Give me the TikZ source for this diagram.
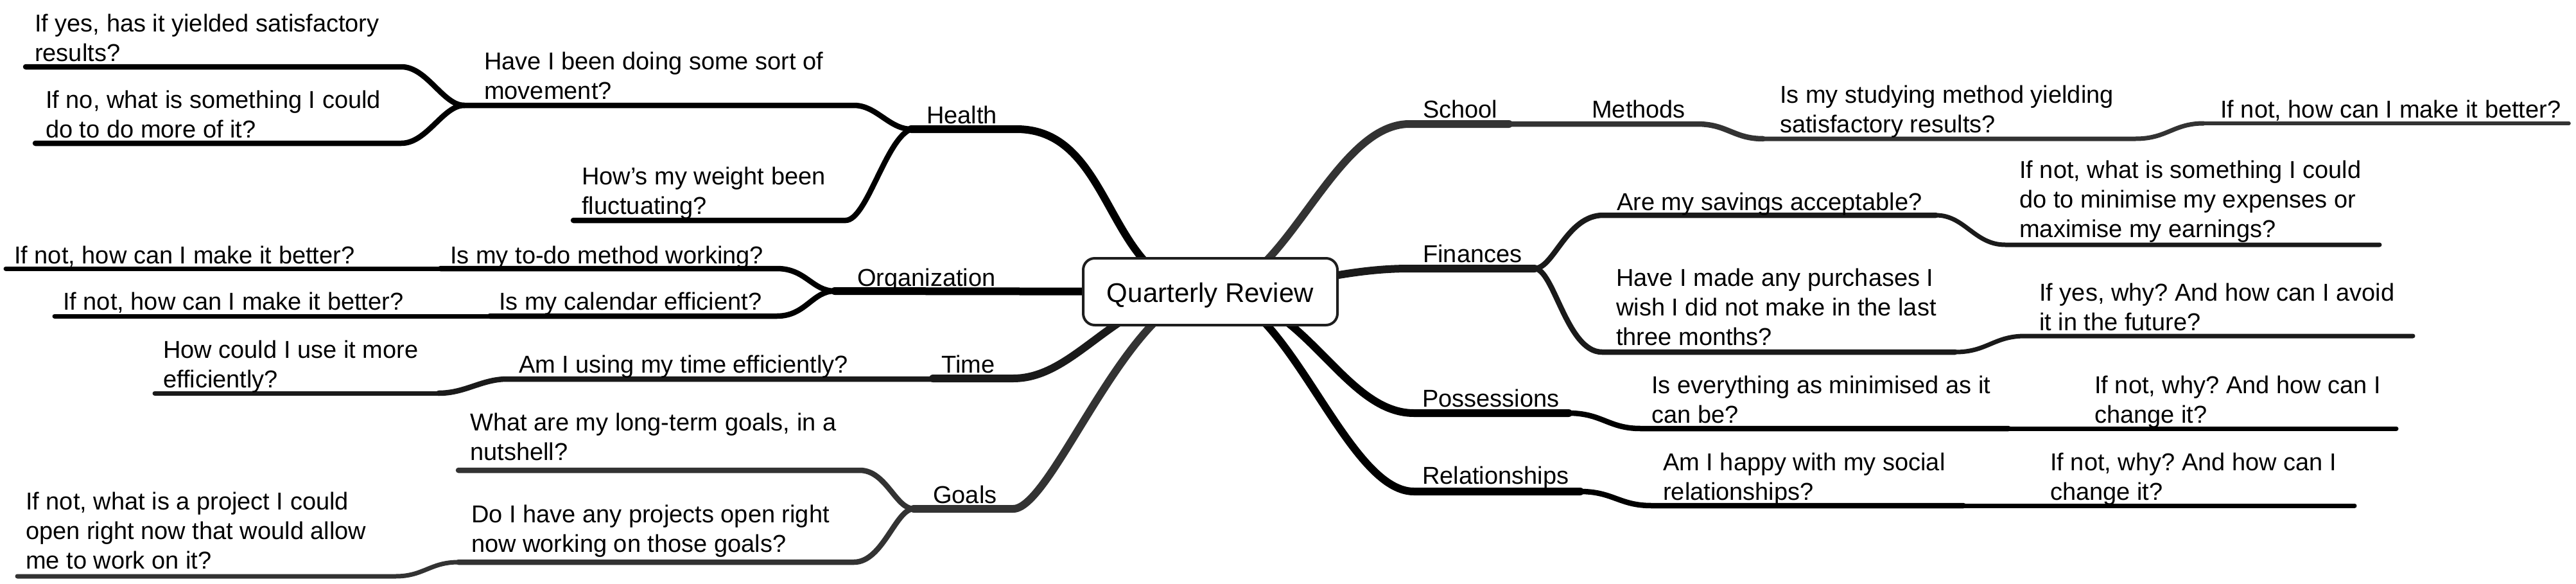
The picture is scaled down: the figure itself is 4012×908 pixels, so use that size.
\documentclass[tikz,border=0pt]{standalone}
\usepackage{fontspec}
\setmainfont{Liberation Sans}
\frenchspacing
\definecolor{gA}{HTML}{1A1A1A}
\definecolor{gB}{HTML}{333333}
\definecolor{boxline}{HTML}{1E1E1E}
\newcommand\twoline[2]{\vtop{\hbox{#1}\hbox{#2}}}
\newcommand\threeline[3]{\vtop{\hbox{#1}\hbox{#2}\hbox{#3}}}
\begin{document}
\begin{tikzpicture}[x=1pt,y=-1pt,
  mainln/.style={line width=12pt, line cap=round},
  subln/.style={line width=8.5pt, line cap=round},
  leafln/.style={line width=7pt, line cap=round},
  tipln/.style={line width=5.5pt, line cap=round},
  centerbox/.style={draw=boxline, line width=4pt, fill=white, rounded corners=18pt,
     minimum width=396pt, minimum height=104pt, inner sep=0pt,
     font=\fontsize{42}{50}\selectfont, text height=36pt, text depth=4pt},
  txt/.style={anchor=base west, inner sep=0pt, font=\fontsize{38}{46}\selectfont\frenchspacing}]
\useasboundingbox (0,0) rectangle (4012,908);
\coordinate (c) at (1885,454);
% ---------- junctions ----------
\coordinate (jH) at (1419,201);
\coordinate (jHM) at (723,164);
\coordinate (jO) at (1300,453);
\coordinate (jG) at (1423,792);
\coordinate (jF) at (2390,418);
% ---------- HEALTH ----------
\draw[mainln,black] (c) .. controls (1720,454) and (1740,201) .. (1583,201) -- (jH);
\draw[subln,black] (jH) .. controls (1385,201) and (1365,164) .. (1330,164) -- (jHM);
\draw[subln,black] (jH) .. controls (1380,215) and (1350,343) .. (1317,343) -- (893,343);
\draw[subln,black] (jHM) .. controls (690,164) and (665,104) .. (625,104) -- (40,104);
\draw[subln,black] (jHM) .. controls (690,164) and (665,223) .. (625,223) -- (55,223);
% ---------- ORGANIZATION ----------
\draw[mainln,black] (c) -- (jO);
\draw[subln,black] (jO) .. controls (1265,453) and (1255,418) .. (1210,418) -- (686,418);
\draw[leafln,black] (686,418) -- (9,418);
\draw[subln,black] (jO) .. controls (1265,453) and (1255,492) .. (1210,492) -- (763,492);
\draw[leafln,black] (763,492) -- (85,492);
% ---------- TIME ----------
\draw[mainln,gA] (c) .. controls (1740,454) and (1680,589) .. (1578,589) -- (1453,589);
\draw[subln,gA] (1453,590) -- (790,590) .. controls (750,590) and (725,612) .. (683,612);
\draw[leafln,gA] (683,612) -- (241,612);
% ---------- GOALS ----------
\draw[mainln,gB] (c) .. controls (1760,454) and (1640,792) .. (1578,792) -- (jG);
\draw[subln,gB] (jG) .. controls (1395,792) and (1380,732) .. (1339,732) -- (714,732);
\draw[subln,gB] (jG) .. controls (1395,792) and (1375,875) .. (1330,875) -- (714,875);
\draw[leafln,gB] (714,875) .. controls (670,875) and (660,897) .. (616,897) -- (27,897);
% ---------- SCHOOL ----------
\draw[mainln,gB] (c) .. controls (2000,454) and (2075,193) .. (2195,193) -- (2350,193);
\draw[subln,gB] (2350,193) -- (2643,193) .. controls (2690,193) and (2700,216) .. (2746,216);
\draw[leafln,gB] (2746,216) -- (3326,216) .. controls (3375,216) and (3385,192) .. (3432,192);
\draw[tipln,gB] (3432,192) -- (4001,192);
% ---------- FINANCES ----------
\draw[mainln,gA] (c) .. controls (2000,454) and (2080,418) .. (2195,418) -- (jF);
\draw[subln,gA] (jF) .. controls (2420,418) and (2440,335) .. (2497,335) -- (3015,335);
\draw[leafln,gA] (3015,335) .. controls (3060,335) and (3075,381) .. (3123,381) -- (3706,381);
\draw[subln,gA] (jF) .. controls (2420,418) and (2440,548) .. (2495,548) -- (3045,548);
\draw[leafln,gA] (3045,548) .. controls (3095,548) and (3105,523) .. (3154,523) -- (3758,523);
% ---------- POSSESSIONS ----------
\draw[mainln,black] (c) .. controls (2030,454) and (2090,643) .. (2202,643) -- (2443,643);
\draw[subln,black] (2443,643) .. controls (2495,643) and (2505,667) .. (2555,667) -- (3128,667);
\draw[leafln,black] (3128,667) -- (3732,667);
% ---------- RELATIONSHIPS ----------
\draw[mainln,black] (c) .. controls (2005,454) and (2095,765) .. (2202,765) -- (2461,765);
\draw[subln,black] (2461,765) .. controls (2512,765) and (2522,787) .. (2572,787) -- (3058,787);
\draw[leafln,black] (3058,787) -- (3667,787);
% ---------- central node ----------
\node[centerbox] (qr) at (c) {Quarterly Review};
% ---------- texts left ----------
\node[txt] (t1) at (54,49) {\twoline{If yes, has it yielded satisfactory}{results?}};
\node[txt] (t2) at (71,168) {\twoline{If no, what is something I could}{do to do more of it?}};
\node[txt] (t3) at (754,108) {\twoline{Have I been doing some sort of}{movement?}};
\node[txt] (t4) at (906,287) {\twoline{How’s my weight been}{fluctuating?}};
\node[txt] (health) at (1443,192) {Health};
\node[txt] (t5) at (22,410) {If not, how can I make it better?};
\node[txt] (t6) at (701,410) {Is my to-do method working?};
\node[txt] (org) at (1335,445) {Organization};
\node[txt] (t7) at (98,482) {If not, how can I make it better?};
\node[txt] (t8) at (777,482) {Is my calendar efficient?};
\node[txt] (t9) at (254,557) {\twoline{How could I use it more}{efficiently?}};
\node[txt] (t10) at (808,580) {Am I using my time efficiently?};
\node[txt] (time) at (1466,580) {Time};
\node[txt] (t11) at (732,670) {\twoline{What are my long-term goals, in a}{nutshell?}};
\node[txt] (goals) at (1453,783) {Goals};
\node[txt] (t12) at (734,813) {\twoline{Do I have any projects open right}{now working on those goals?}};
\node[txt] (t13) at (40,793) {\threeline{If not, what is a project I could}{open right now that would allow}{me to work on it?}};
% ---------- texts right ----------
\node[txt] (school) at (2216,183) {School};
\node[txt] (methods) at (2479,183) {Methods};
\node[txt] (t14) at (2772,160) {\twoline{Is my studying method yielding}{satisfactory results?}};
\node[txt] (t15) at (3458,183) {If not, how can I make it better?};
\node[txt] (fin) at (2216,408) {Finances};
\node[txt] (t16) at (2518,327) {Are my savings acceptable?};
\node[txt] (t17) at (3145,277) {\threeline{If not, what is something I could}{do to minimise my expenses or}{maximise my earnings?}};
\node[txt] (t18) at (2517,445) {\threeline{Have I made any purchases I}{wish I did not make in the last}{three months?}};
\node[txt] (t19) at (3176,468) {\twoline{If yes, why? And how can I avoid}{it in the future?}};
\node[txt] (poss) at (2215,633) {Possessions};
\node[txt] (t20) at (2572,612) {\twoline{Is everything as minimised as it}{can be?}};
\node[txt] (t21) at (3262,612) {\twoline{If not, why? And how can I}{change it?}};
\node[txt] (rel) at (2215,753) {Relationships};
\node[txt] (t22) at (2590,732) {\twoline{Am I happy with my social}{relationships?}};
\node[txt] (t23) at (3193,732) {\twoline{If not, why? And how can I}{change it?}};
\end{tikzpicture}
\end{document}
